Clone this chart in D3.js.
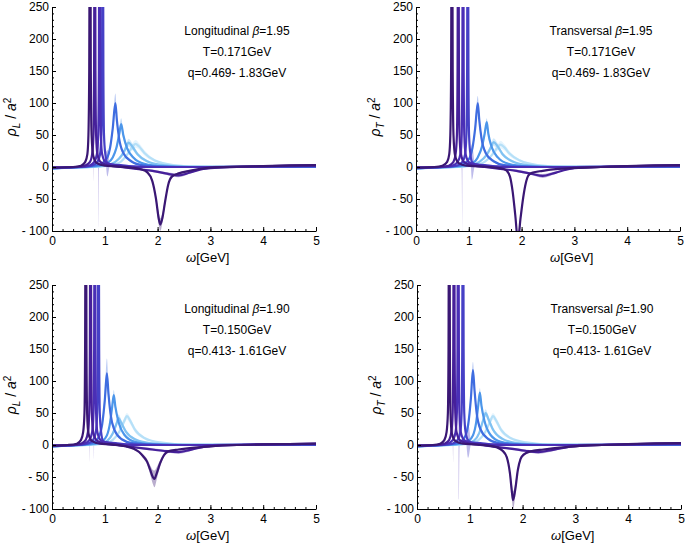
<!DOCTYPE html>
<html>
<head>
<meta charset="utf-8">
<script src="https://cdn.jsdelivr.net/npm/d3@7/dist/d3.min.js"></script>
<style>
  body { margin: 0; background: #fff; }
  text { font-family: "Liberation Sans", Arial, Helvetica, sans-serif; fill: #000; }
</style>
</head>
<body>
<script>
// tick values of the axes
var omegaTicks = [0, 1, 2, 3, 4, 5];
var rhoTicks = [-100, -50, 0, 50, 100, 150, 200, 250];

// panel texts, in order: top-left, top-right, bottom-left, bottom-right
var panelKinds = ["Longitudinal", "Transversal", "Longitudinal", "Transversal"];
var panelSubs = ["L", "T", "L", "T"];
var betas = ["1.95", "1.95", "1.90", "1.90"];
var temps = ["0.171", "0.171", "0.150", "0.150"];
var qRanges = ["0.469- 1.83", "0.469- 1.83", "0.413- 1.61", "0.413- 1.61"];

// one colour per momentum q, lowest q first
var curveColors = ["#3a1774", "#46209a", "#4a2fb6", "#4640c6", "#3f6de0", "#4c96ea", "#80c2f2", "#b6e0f8"];

// curves: [omega, rho, error]
var tlCurves = [
  [[0,-1,0],[0.4,0,0],[0.55,2,0.5],[0.63,8,1],[0.67,20,2],[0.69,50,5],[0.705,150,10],[0.72,600,40],[0.735,150,10],[0.75,50,5],[0.78,18,2],[0.85,6,1],[1.0,2,0.5],[1.2,1,0.5],[1.5,-1,1],[1.7,-4,1],[1.8,-8,2],[1.9,-22,3],[1.97,-50,6],[2.02,-80,10],[2.05,-90,10],[2.09,-80,8],[2.14,-55,5],[2.2,-28,3],[2.27,-15,2],[2.4,-10,1.5],[2.6,-6,1],[2.8,-3,1],[3.0,-1,0.5],[3.5,0.5,0.5],[4,1.5,0.5],[4.5,2.5,0.5],[5,3,0.5]],
  [[0,-1,0],[0.45,0,0],[0.62,2,0.5],[0.72,8,1],[0.76,20,2],[0.785,50,40],[0.797,150,173],[0.81,600,40],[0.823,150,10],[0.835,50,5],[0.86,20,2],[0.93,7,1],[1.1,2,1],[1.3,0,1],[1.6,-3,1],[1.9,-6,2],[2.15,-10,2],[2.4,-13,3],[2.6,-9,2],[2.8,-4,1],[3.0,-2,1],[3.5,0,0.5],[4,1,0.5],[4.5,2,0.5],[5,2.5,0.5]],
  [[0,-1,0],[0.5,0,0],[0.7,2,0.5],[0.8,8,1],[0.85,20,2],[0.875,50,55],[0.888,150,245],[0.9,600,40],[0.913,150,10],[0.925,50,5],[0.95,20,2],[1.02,7,1],[1.2,3,1],[1.4,1,0.5],[1.8,0,0.5],[3,0,0.5],[4,1,0.5],[5,2,0.5]],
  [[0,-1,0],[0.55,0,0],[0.75,2,0.5],[0.86,8,1],[0.91,20,2],[0.935,50,5],[0.948,150,10],[0.96,600,40],[0.973,150,10],[0.985,50,5],[1.01,20,2],[1.05,6,21],[1.1,4,1],[1.3,3,1],[1.5,1,0.5],[2,0,0.5],[3,0,0.5],[4,0.5,0.5],[5,1.5,0.5]],
  [[0,-2,0],[0.5,0,0],[0.8,2,0.5],[0.95,6,1],[1.05,15,2],[1.1,30,4],[1.15,60,8],[1.2,100,15],[1.23,72,9],[1.27,45,6],[1.35,22,3],[1.5,9,1.5],[1.7,3,1],[2,1,0.5],[2.5,0,0.5],[5,0,0.5]],
  [[0,-2,0],[0.6,0,0],[0.9,2,0.5],[1.05,6,1],[1.15,15,2],[1.22,30,4],[1.27,50,7],[1.31,67,9],[1.35,50,6],[1.42,30,4],[1.55,14,2],[1.75,5,1],[2.1,1,0.5],[2.6,0,0.5],[5,0,0.5]],
  [[0,-2,0],[0.7,0,0],[1.0,2,0.5],[1.2,8,1],[1.32,18,3],[1.4,30,5],[1.45,38,6],[1.52,32,5],[1.62,20,3],[1.8,9,2],[2.1,3,1],[2.6,0.5,0.5],[5,0,0.5]],
  [[0,-2,0],[0.8,0,0],[1.1,2,0.5],[1.3,8,1.5],[1.43,20,3],[1.52,31,5],[1.58,36,6],[1.65,32,5],[1.75,22,4],[1.95,10,2],[2.3,3,1],[2.8,0.5,0.5],[5,0,0.5]]
];

var trCurves = [
  [[0,-1,0],[0.35,0,0],[0.5,2,0.5],[0.59,8,1],[0.63,20,2],[0.65,50,5],[0.665,150,10],[0.68,600,40],[0.695,150,10],[0.71,50,5],[0.74,18,2],[0.81,6,1],[0.95,2,0.5],[1.2,1,0.5],[1.5,-1,1],[1.65,-3,1],[1.72,-6,1.5],[1.78,-15,2],[1.83,-38,4],[1.88,-75,6],[1.93,-115,8],[1.98,-80,6],[2.03,-48,4],[2.08,-25,3],[2.13,-13,2],[2.2,-9,1.5],[2.4,-6,1],[2.7,-3,1],[3,-1.5,0.5],[3.5,0,0.5],[4,1.5,0.5],[4.5,2.5,0.5],[5,3,0.5]],
  [[0,-1,0],[0.45,0,0],[0.62,2,0.5],[0.71,8,1],[0.75,20,2],[0.775,50,5],[0.787,150,10],[0.8,600,40],[0.813,150,10],[0.825,50,5],[0.85,20,2],[0.92,7,1],[1.1,2,1],[1.3,0,1],[1.6,-3,1],[1.9,-6,2],[2.2,-11,2],[2.4,-14,3],[2.6,-10,2],[2.8,-5,1],[3,-2,1],[3.5,0,0.5],[4,1,0.5],[4.5,2,0.5],[5,2.5,0.5]],
  [[0,-1,0],[0.5,0,0],[0.69,2,0.5],[0.79,8,1],[0.84,20,2],[0.865,50,55],[0.878,150,260],[0.89,600,40],[0.903,150,10],[0.915,50,5],[0.94,20,2],[1.01,7,1],[1.2,3,1],[1.4,1,0.5],[1.8,0,0.5],[3,0,0.5],[4,1,0.5],[5,2,0.5]],
  [[0,-1,0],[0.55,0,0],[0.77,2,0.5],[0.88,8,1],[0.93,20,2],[0.955,50,5],[0.968,150,10],[0.98,600,40],[0.993,150,10],[1.005,50,5],[1.03,20,2],[1.06,8,28],[1.12,4,1],[1.3,3,1],[1.5,1,0.5],[2,0,0.5],[3,0,0.5],[4,0.5,0.5],[5,1.5,0.5]],
  [[0,-2,0],[0.5,0,0],[0.8,2,0.5],[0.93,6,1],[1.02,15,2],[1.07,30,4],[1.12,60,8],[1.17,100,11],[1.2,72,8],[1.24,45,6],[1.32,22,3],[1.47,9,1.5],[1.67,3,1],[2,1,0.5],[2.5,0,0.5],[5,0,0.5]],
  [[0,-2,0],[0.6,0,0],[0.9,2,0.5],[1.07,6,1],[1.17,15,2],[1.25,32,4],[1.3,52,6],[1.34,70,6],[1.37,52,5],[1.43,32,4],[1.55,15,2],[1.75,5,1],[2.1,1,0.5],[2.6,0,0.5],[5,0,0.5]],
  [[0,-2,0],[0.7,0,0],[1.0,2,0.5],[1.2,8,1],[1.33,18,3],[1.42,31,5],[1.47,39,6],[1.54,33,5],[1.64,20,3],[1.82,9,2],[2.1,3,1],[2.6,0.5,0.5],[5,0,0.5]],
  [[0,-2,0],[0.8,0,0],[1.1,2,0.5],[1.3,8,1.5],[1.44,19,3],[1.54,30,5],[1.6,35,6],[1.67,31,5],[1.77,21,4],[1.97,10,2],[2.3,3,1],[2.8,0.5,0.5],[5,0,0.5]]
];

var blCurves = [
  [[0,-1,0],[0.3,0,0],[0.47,2,0.5],[0.55,8,1],[0.59,20,2],[0.615,50,5],[0.627,150,10],[0.64,600,40],[0.653,150,10],[0.665,50,5],[0.69,18,2],[0.76,6,1],[0.9,2,0.5],[1.1,1,0.5],[1.4,-2,1],[1.55,-6,1.5],[1.65,-11,2],[1.73,-18,3],[1.8,-26,4],[1.86,-39,7],[1.91,-50,11],[1.94,-53,13],[1.98,-45,10],[2.05,-28,5],[2.12,-16,3],[2.2,-10,2],[2.4,-7,1],[2.7,-4,1],[3,-2,0.5],[3.5,0,0.5],[4,1,0.5],[4.5,1.5,0.5],[5,2,0.5]],
  [[0,-1,0],[0.4,0,0],[0.55,2,0.5],[0.64,8,1],[0.68,20,2],[0.705,50,40],[0.717,150,177],[0.73,600,40],[0.743,150,10],[0.755,50,5],[0.78,20,2],[0.85,7,1],[1.0,2,1],[1.2,0,1],[1.5,-3,1],[1.8,-6,2],[2.1,-9,2],[2.4,-11,2.5],[2.6,-8,2],[2.8,-4,1],[3,-2,1],[3.5,0,0.5],[4,1,0.5],[4.5,1.5,0.5],[5,2,0.5]],
  [[0,-1,0],[0.45,0,0],[0.61,2,0.5],[0.71,8,1],[0.76,20,2],[0.785,50,40],[0.798,150,172],[0.81,600,40],[0.823,150,10],[0.835,50,5],[0.86,20,2],[0.93,7,1],[1.1,3,1],[1.3,1,0.5],[1.8,0,0.5],[3,0,0.5],[4,1,0.5],[5,1.5,0.5]],
  [[0,-1,0],[0.5,0,0],[0.67,2,0.5],[0.78,8,1],[0.83,20,2],[0.855,50,5],[0.868,150,10],[0.88,600,40],[0.893,150,10],[0.905,50,5],[0.93,20,2],[0.97,6,1],[1.05,4,1],[1.2,3,1],[1.4,1,0.5],[2,0,0.5],[3,0,0.5],[4,0.5,0.5],[5,1,0.5]],
  [[0,-2,0],[0.45,0,0],[0.7,2,0.5],[0.82,6,1],[0.9,15,2],[0.95,32,5],[1.0,70,12],[1.04,112,23],[1.07,80,12],[1.11,48,6],[1.18,24,3],[1.32,9,1.5],[1.52,3,1],[1.85,1,0.5],[2.4,0,0.5],[5,0,0.5]],
  [[0,-2,0],[0.55,0,0],[0.8,2,0.5],[0.95,6,1],[1.04,15,2],[1.1,35,4],[1.14,60,6],[1.17,78,8],[1.2,60,6],[1.26,36,4],[1.37,16,2],[1.57,5,1],[1.95,1,0.5],[2.5,0,0.5],[5,0,0.5]],
  [[0,-2,0],[0.6,0,0],[0.9,2,0.5],[1.05,7,1],[1.15,18,3],[1.22,33,5],[1.26,42,6],[1.31,35,5],[1.4,21,3],[1.57,9,2],[1.85,3,1],[2.4,0.5,0.5],[5,0,0.5]],
  [[0,-2,0],[0.7,0,0],[1.0,2,0.5],[1.15,8,1.5],[1.27,20,3],[1.36,36,5],[1.42,45,5],[1.48,38,5],[1.57,24,4],[1.75,11,2],[2.05,4,1],[2.6,0.5,0.5],[5,0,0.5]]
];

var brCurves = [
  [[0,-1,0],[0.3,0,0],[0.44,2,0.5],[0.52,8,1],[0.56,20,2],[0.585,50,5],[0.597,150,10],[0.61,600,40],[0.623,150,10],[0.635,50,5],[0.66,18,2],[0.73,6,1],[0.87,2,0.5],[1.1,1,0.5],[1.35,-1,1],[1.52,-4,1],[1.62,-9,1.5],[1.7,-19,2.5],[1.76,-44,6],[1.8,-75,12],[1.82,-86,14],[1.86,-70,10],[1.91,-39,5],[1.96,-22,3],[2.02,-15,2],[2.15,-10,1.5],[2.4,-7,1],[2.7,-4,1],[3,-2,0.5],[3.5,0,0.5],[4,1.5,0.5],[4.5,2.5,0.5],[5,3,0.5]],
  [[0,-1,0],[0.38,0,0],[0.52,2,0.5],[0.61,8,1],[0.65,20,2],[0.675,50,40],[0.687,150,178],[0.7,600,40],[0.713,150,10],[0.725,50,5],[0.75,20,2],[0.82,7,1],[1.0,2,1],[1.2,0,1],[1.5,-3,1],[1.8,-6,2],[2.05,-9,2],[2.3,-11,2.5],[2.55,-8,2],[2.8,-4,1],[3,-2,1],[3.5,0,0.5],[4,1,0.5],[4.5,2,0.5],[5,2.5,0.5]],
  [[0,-1,0],[0.42,0,0],[0.58,2,0.5],[0.68,8,1],[0.73,20,2],[0.755,50,5],[0.767,150,10],[0.78,600,40],[0.793,150,235],[0.805,50,55],[0.83,20,2],[0.9,7,1],[1.05,3,1],[1.3,1,0.5],[1.8,0,0.5],[3,0,0.5],[4,1,0.5],[5,2,0.5]],
  [[0,-1,0],[0.5,0,0],[0.67,2,0.5],[0.77,8,1],[0.82,20,2],[0.845,50,5],[0.857,150,10],[0.87,600,40],[0.883,150,10],[0.895,50,5],[0.92,20,2],[0.97,7,27],[1.03,4,1],[1.2,3,1],[1.4,1,0.5],[2,0,0.5],[3,0,0.5],[4,0.5,0.5],[5,1.5,0.5]],
  [[0,-2,0],[0.45,0,0],[0.72,2,0.5],[0.84,6,1],[0.92,15,2],[0.97,32,5],[1.02,72,10],[1.06,117,13],[1.09,85,10],[1.13,50,6],[1.2,25,3],[1.34,10,1.5],[1.54,3,1],[1.87,1,0.5],[2.4,0,0.5],[5,0,0.5]],
  [[0,-2,0],[0.55,0,0],[0.82,2,0.5],[0.97,6,1],[1.06,15,2],[1.12,35,4],[1.16,62,6],[1.19,82,7],[1.22,62,6],[1.28,37,4],[1.39,16,2],[1.59,5,1],[1.97,1,0.5],[2.5,0,0.5],[5,0,0.5]],
  [[0,-2,0],[0.62,0,0],[0.92,2,0.5],[1.08,7,1],[1.18,19,3],[1.25,38,5],[1.3,50,6],[1.35,41,5],[1.44,24,3],[1.61,10,2],[1.9,3,1],[2.4,0.5,0.5],[5,0,0.5]],
  [[0,-2,0],[0.7,0,0],[1.02,2,0.5],[1.17,8,1.5],[1.29,20,3],[1.38,36,5],[1.44,45,5],[1.5,38,5],[1.59,24,4],[1.77,11,2],[2.07,4,1],[2.6,0.5,0.5],[5,0,0.5]]
];

var allCurves = [tlCurves, trCurves, blCurves, brCurves];

// layout
var W = 685, H = 543;
var plotW = 264, plotH = 224;
var origins = [{x: 52, y: 7}, {x: 416, y: 7}, {x: 52, y: 285}, {x: 417, y: 285}];

var svg = d3.select("body").append("svg")
    .attr("width", W)
    .attr("height", H);

var x = d3.scaleLinear().domain([0, 5]).range([0, plotW]);
var y = d3.scaleLinear().domain([-100, 250]).range([plotH, 0]);

var line = d3.line()
    .x(function(d) { return x(d[0]); })
    .y(function(d) { return y(d[1]); })
    .curve(d3.curveMonotoneX);

var band = d3.area()
    .x(function(d) { return x(d[0]); })
    .y0(function(d) { return y(d[1] - d[2]); })
    .y1(function(d) { return y(d[1] + d[2]); })
    .curve(d3.curveMonotoneX);

origins.forEach(function(o, p) {
    var g = svg.append("g").attr("transform", "translate(" + o.x + "," + o.y + ")");

    g.append("clipPath").attr("id", "clip" + p)
      .append("rect").attr("width", plotW).attr("height", plotH);

    var plot = g.append("g").attr("clip-path", "url(#clip" + p + ")");
    // lightest first so the dark curves sit on top
    var curves = allCurves[p].map(function(c, i) { return {pts: c, i: i}; }).reverse();

    plot.selectAll(".band").data(curves).enter()
      .append("path")
        .attr("class", "band")
        .attr("d", function(d) { return band(d.pts); })
        .attr("fill", function(d) { return curveColors[d.i]; })
        .attr("fill-opacity", 0.35);

    plot.selectAll(".curve").data(curves).enter()
      .append("path")
        .attr("class", "curve")
        .attr("d", function(d) { return line(d.pts); })
        .attr("fill", "none")
        .attr("stroke", function(d) { return curveColors[d.i]; })
        .attr("stroke-width", 2.2)
        .attr("stroke-linejoin", "round");

    // minor ticks
    g.append("g")
        .call(d3.axisLeft(y).tickValues(d3.range(-100, 251, 10)).tickSizeInner(-2).tickSizeOuter(0).tickFormat(""))
        .call(function(a) { a.select(".domain").remove(); });
    g.append("g").attr("transform", "translate(0," + plotH + ")")
        .call(d3.axisBottom(x).tickValues(d3.range(0, 5.01, 0.2)).tickSizeInner(-2).tickSizeOuter(0).tickFormat(""))
        .call(function(a) { a.select(".domain").remove(); });

    // major axes
    var ya = g.append("g")
        .call(d3.axisLeft(y).tickValues(rhoTicks).tickSizeInner(-4).tickSizeOuter(0).tickPadding(3)
          .tickFormat(function(d) { return d < 0 ? "- " + Math.abs(d) : d; }));
    var xa = g.append("g").attr("transform", "translate(0," + plotH + ")")
        .call(d3.axisBottom(x).tickValues(omegaTicks).tickSizeInner(-4).tickSizeOuter(0).tickPadding(5)
          .tickFormat(d3.format("d")));
    [ya, xa].forEach(function(a) {
        a.selectAll("text").style("font-size", "12px").attr("fill", "#000");
        a.selectAll("line, path").attr("stroke", "#000");
    });

    // axis titles
    var xt = g.append("text")
        .attr("x", x(2.95)).attr("y", plotH + 31)
        .attr("text-anchor", "middle")
        .style("font-size", "13px");
    xt.append("tspan").attr("font-style", "italic").text("ω");
    xt.append("tspan").text("[GeV]");

    var yt = g.append("text")
        .attr("transform", "translate(" + (-36) + "," + 110 + ") rotate(-90)")
        .attr("text-anchor", "middle")
        .style("font-size", "14px");
    yt.append("tspan").attr("font-style", "italic").text("ρ");
    yt.append("tspan").attr("font-style", "italic").attr("font-size", "10px").attr("dy", 4).text(panelSubs[p]);
    yt.append("tspan").attr("dy", -4).text(" / ");
    yt.append("tspan").attr("font-style", "italic").text("a");
    yt.append("tspan").attr("font-size", "10px").attr("dy", -5).text("2");

    // annotation
    var cx = 185;
    var t1 = g.append("text").attr("x", cx).attr("y", 28).attr("text-anchor", "middle").style("font-size", "12px");
    t1.append("tspan").text(panelKinds[p] + " ");
    t1.append("tspan").attr("font-style", "italic").text("β");
    t1.append("tspan").text("=" + betas[p]);
    g.append("text").attr("x", cx).attr("y", 49).attr("text-anchor", "middle").style("font-size", "12px")
        .text("T=" + temps[p] + "GeV");
    g.append("text").attr("x", cx).attr("y", 70).attr("text-anchor", "middle").style("font-size", "12px")
        .text("q=" + qRanges[p] + "GeV");
});
</script>
</body>
</html>
